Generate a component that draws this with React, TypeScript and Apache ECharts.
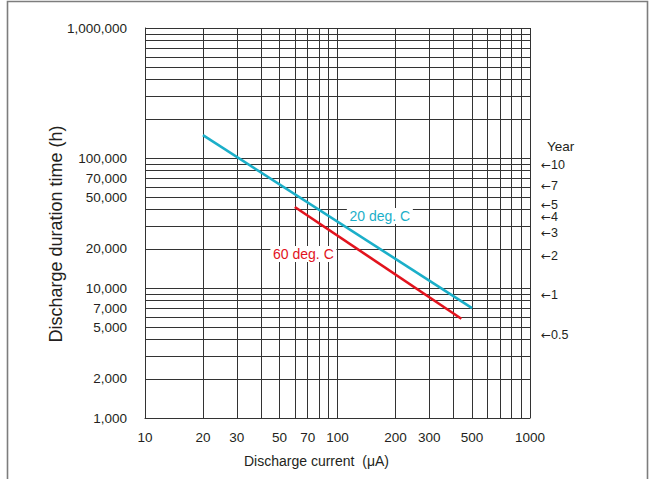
import React, { useEffect, useRef } from "react";
import * as echarts from "echarts";

// ---- data ----
const xTickValues = [10, 20, 30, 50, 70, 100, 200, 300, 500, 1000];
const yTickValues = [1000, 2000, 5000, 7000, 10000, 20000, 50000, 70000, 100000, 1000000];
const xGridValues = [10, 20, 30, 40, 50, 60, 70, 80, 90, 100, 200, 300, 400, 500, 600, 700, 800, 900, 1000];
const yGridValues = [
  1000, 2000, 3000, 4000, 5000, 6000, 7000, 8000, 9000,
  10000, 20000, 30000, 40000, 50000, 60000, 70000, 80000, 90000,
  100000, 200000, 300000, 400000, 500000, 600000, 700000, 800000, 900000, 1000000,
];
const yearTickValues = [0.5, 1, 2, 3, 4, 5, 7, 10];
const HOURS_PER_YEAR = 8760;

const series20C: [number, number][] = [[20, 150000], [500, 7000]];
const series60C: [number, number][] = [[60, 42000], [440, 5800]];
const label20CAt: [number, number] = [166, 35800];
const label60CAt: [number, number] = [66.5, 18300];

const CYAN = "#1bafc9";
const RED = "#e2131d";
const TEXT = "#231f20";
const GRID = "#333333";
const FONT = "'Liberation Sans', Arial, Helvetica, sans-serif";

export default function App() {
  const ref = useRef<HTMLDivElement>(null);
  useEffect(() => {
    if (!ref.current) return;
    const chart = echarts.init(ref.current, null, { renderer: "svg" });
    chart.setOption({
      animation: false,
      textStyle: { fontFamily: FONT, color: TEXT },
      grid: { left: 145, right: 126, top: 28, bottom: 61, containLabel: false },
      xAxis: {
        type: "log",
        logBase: 10,
        min: 10,
        max: 1000,
        name: "Discharge current  (\u03bcA)",
        nameLocation: "middle",
        nameGap: 36,
        nameMoveOverlap: false,
        nameTextStyle: { fontSize: 14, color: TEXT, fontFamily: FONT, padding: [0, 42, 0, 0] },
        axisLine: { show: true, lineStyle: { color: TEXT, width: 1 } },
        axisTick: { show: false },
        splitLine: { show: false },
        minorSplitLine: { show: false },
        axisLabel: {
          customValues: xTickValues,
          margin: 12,
          fontSize: 13.5,
          color: TEXT,
          fontFamily: FONT,
          formatter: (v: number) => String(v),
        },
      },
      yAxis: [
        {
          type: "log",
          logBase: 10,
          min: 1000,
          max: 1000000,
          name: "Discharge duration time (h)",
          nameLocation: "middle",
          nameGap: 80,
          nameMoveOverlap: false,
          nameRotate: 90,
          nameTextStyle: { fontSize: 18, color: TEXT, fontFamily: FONT, padding: [0, 22, 0, 0] },
          axisLine: { show: true, lineStyle: { color: TEXT, width: 1 } },
          axisTick: { show: false },
          splitLine: { show: false },
          axisLabel: {
            customValues: yTickValues,
            margin: 18,
            fontSize: 13.5,
            color: TEXT,
            fontFamily: FONT,
            formatter: (v: number) => Math.round(v).toLocaleString("en-US"),
          },
        },
        {
          type: "log",
          logBase: 10,
          min: 1000 / HOURS_PER_YEAR,
          max: 1000000 / HOURS_PER_YEAR,
          position: "right",
          axisLine: { show: false },
          axisTick: { show: false },
          splitLine: { show: false },
          axisLabel: {
            customValues: yearTickValues,
            margin: 11,
            fontSize: 12.5,
            lineHeight: 12,
            color: TEXT,
            fontFamily: FONT,
            formatter: (v: number) => "{a|\u2190}" + v,
            rich: {
              a: { fontFamily: "DejaVu Sans", fontSize: 12, color: TEXT, lineHeight: 12 },
            },
          },
        },
      ],
      graphic: [
        {
          type: "rect",
          shape: { x: 7.5, y: 1.5, width: 640, height: 520 },
          style: { fill: "none", stroke: "#7d7d7d", lineWidth: 1.6 },
          silent: true,
          z: -1,
        },
        {
          type: "text",
          left: 547,
          top: 139,
          style: { text: "Year", fontSize: 13.5, fill: TEXT, fontFamily: FONT },
        },
      ],
      series: [
        {
          name: "grid",
          type: "line",
          data: [],
          silent: true,
          z: 1,
          markLine: {
            silent: true,
            z: 1,
            symbol: ["none", "none"],
            label: { show: false },
            lineStyle: { color: GRID, width: 1, type: "solid" },
            emphasis: { disabled: true },
            data: [
              ...xGridValues.map((v) => ({ xAxis: v })),
              ...yGridValues.map((v) => ({ yAxis: v })),
            ],
          },
        },
        {
          name: "20 deg. C",
          type: "line",
          data: series20C,
          symbol: "none",
          lineStyle: { color: CYAN, width: 2.6 },
          itemStyle: { color: CYAN },
          z: 3,
        },
        {
          name: "60 deg. C",
          type: "line",
          data: series60C,
          symbol: "none",
          lineStyle: { color: RED, width: 2.6 },
          itemStyle: { color: RED },
          z: 3,
        },
        {
          type: "scatter",
          data: [label20CAt],
          symbol: "rect",
          symbolSize: [66, 16],
          itemStyle: { color: "#ffffff", opacity: 1 },
          z: 4,
          silent: true,
          label: {
            show: true,
            position: "inside",
            formatter: "20 deg. C",
            color: CYAN,
            fontSize: 14,
            fontFamily: FONT,
          },
        },
        {
          type: "scatter",
          data: [label60CAt],
          symbol: "rect",
          symbolSize: [66, 16],
          itemStyle: { color: "#ffffff", opacity: 1 },
          z: 4,
          silent: true,
          label: {
            show: true,
            position: "inside",
            formatter: "60 deg. C",
            color: RED,
            fontSize: 14,
            fontFamily: FONT,
          },
        },
      ],
    });
    return () => chart.dispose();
  }, []);
  return (
    <div
      ref={ref}
      style={{ position: "fixed", left: 0, top: 0, width: 656, height: 479, background: "#fff" }}
    />
  );
}
